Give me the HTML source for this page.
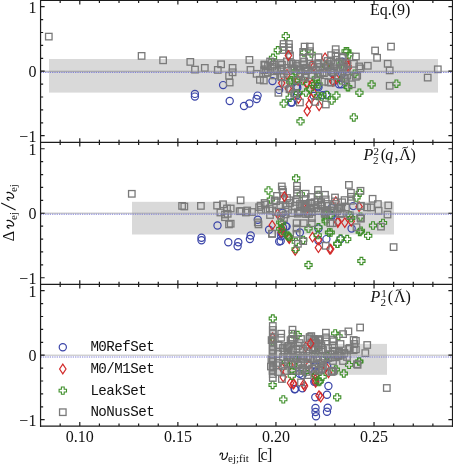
<!DOCTYPE html>
<html><head><meta charset="utf-8"><style>
html,body{margin:0;padding:0;background:#fff;}
svg{display:block;will-change:transform;filter:blur(0.3px);}
.tl{font-family:"Liberation Serif",serif;font-size:16px;fill:#111;}
.it{font-style:italic;}
.sm{font-family:"Liberation Serif",serif;font-size:11px;fill:#111;}
.lg{font-family:"Liberation Mono",monospace;font-size:14.2px;letter-spacing:-0.55px;fill:#111;}
.s{fill:none;stroke:#7a7a7a;stroke-width:1.3;}
.c{fill:none;stroke:#3b45a8;stroke-width:1.2;}
.d{fill:none;stroke:#d22b2b;stroke-width:1.2;stroke-linejoin:miter;}
.p{fill:none;stroke:#3f8f2a;stroke-width:1.1;}
</style></head><body>
<svg width="453" height="465" viewBox="0 0 453 465">
<rect x="49.0" y="59.0" width="389.0" height="33.599999999999994" fill="#d9d9d9"/>
<rect x="132.0" y="201.8" width="262.0" height="32.69999999999999" fill="#d9d9d9"/>
<rect x="268.0" y="343.9" width="119.0" height="30.900000000000034" fill="#d9d9d9"/>
<circle cx="194.9" cy="93.9" r="3.6" class="c"/>
<circle cx="194.9" cy="96.6" r="3.6" class="c"/>
<circle cx="223.1" cy="85.1" r="3.6" class="c"/>
<circle cx="229.7" cy="101.0" r="3.6" class="c"/>
<circle cx="244.0" cy="106.0" r="3.6" class="c"/>
<circle cx="249.4" cy="103.5" r="3.6" class="c"/>
<circle cx="256.6" cy="99.0" r="3.6" class="c"/>
<circle cx="257.6" cy="95.6" r="3.6" class="c"/>
<circle cx="272.5" cy="81.1" r="3.6" class="c"/>
<circle cx="279.1" cy="89.9" r="3.6" class="c"/>
<circle cx="291.0" cy="102.6" r="3.6" class="c"/>
<circle cx="297.0" cy="86.4" r="3.6" class="c"/>
<circle cx="297.0" cy="95.0" r="3.6" class="c"/>
<circle cx="332.4" cy="73.0" r="3.6" class="c"/>
<circle cx="342.3" cy="73.7" r="3.6" class="c"/>
<circle cx="339.0" cy="84.3" r="3.6" class="c"/>
<circle cx="296.0" cy="87.0" r="3.6" class="c"/>
<circle cx="317.8" cy="86.3" r="3.6" class="c"/>
<circle cx="342.3" cy="61.8" r="3.6" class="c"/>
<circle cx="292.0" cy="102.5" r="3.6" class="c"/>
<circle cx="297.3" cy="88.0" r="3.6" class="c"/>
<circle cx="318.5" cy="87.3" r="3.6" class="c"/>
<circle cx="322.5" cy="95.2" r="3.6" class="c"/>
<circle cx="326.4" cy="94.6" r="3.6" class="c"/>
<circle cx="313.8" cy="95.9" r="3.6" class="c"/>
<circle cx="341.3" cy="84.3" r="3.6" class="c"/>
<path d="M281.7 78.3L284.9 83.1L281.7 87.9L278.5 83.1Z" class="d"/>
<path d="M288.3 83.6L291.5 88.4L288.3 93.2L285.1 88.4Z" class="d"/>
<path d="M287.0 69.7L290.2 74.5L287.0 79.3L283.8 74.5Z" class="d"/>
<path d="M325.1 53.0L328.3 57.8L325.1 62.6L321.9 57.8Z" class="d"/>
<path d="M325.8 61.6L329.0 66.4L325.8 71.2L322.6 66.4Z" class="d"/>
<path d="M311.9 60.3L315.1 65.1L311.9 69.9L308.7 65.1Z" class="d"/>
<path d="M313.8 61.6L317.0 66.4L313.8 71.2L310.6 66.4Z" class="d"/>
<path d="M347.6 58.3L350.8 63.1L347.6 67.9L344.4 63.1Z" class="d"/>
<path d="M348.3 62.9L351.5 67.7L348.3 72.5L345.1 67.7Z" class="d"/>
<path d="M332.4 76.2L335.6 81.0L332.4 85.8L329.2 81.0Z" class="d"/>
<path d="M336.4 74.2L339.6 79.0L336.4 83.8L333.2 79.0Z" class="d"/>
<path d="M307.2 78.2L310.4 83.0L307.2 87.8L304.0 83.0Z" class="d"/>
<path d="M311.9 79.5L315.1 84.3L311.9 89.1L308.7 84.3Z" class="d"/>
<path d="M298.0 75.5L301.2 80.3L298.0 85.1L294.8 80.3Z" class="d"/>
<path d="M307.2 106.3L310.4 111.1L307.2 115.9L304.0 111.1Z" class="d"/>
<path d="M309.2 99.7L312.4 104.5L309.2 109.3L306.0 104.5Z" class="d"/>
<path d="M311.2 93.7L314.4 98.5L311.2 103.3L308.0 98.5Z" class="d"/>
<path d="M313.8 88.4L317.0 93.2L313.8 98.0L310.6 93.2Z" class="d"/>
<path d="M319.1 101.0L322.3 105.8L319.1 110.6L315.9 105.8Z" class="d"/>
<path d="M298.4 93.7L301.6 98.5L298.4 103.3L295.2 98.5Z" class="d"/>
<path d="M306.6 78.5L309.8 83.3L306.6 88.1L303.4 83.3Z" class="d"/>
<path d="M333.0 76.5L336.2 81.3L333.0 86.1L329.8 81.3Z" class="d"/>
<path d="M348.0 61.0L351.2 65.8L348.0 70.6L344.8 65.8Z" class="d"/>
<path d="M284.4 32.5L287.2 32.5L287.2 34.7L289.4 34.7L289.4 37.5L287.2 37.5L287.2 39.8L284.4 39.8L284.4 37.5L282.2 37.5L282.2 34.7L284.4 34.7Z" class="p"/>
<path d="M276.4 46.6L279.2 46.6L279.2 48.8L281.4 48.8L281.4 51.6L279.2 51.6L279.2 53.9L276.4 53.9L276.4 51.6L274.2 51.6L274.2 48.8L276.4 48.8Z" class="p"/>
<path d="M271.6 54.1L274.4 54.1L274.4 56.3L276.6 56.3L276.6 59.1L274.4 59.1L274.4 61.4L271.6 61.4L271.6 59.1L269.4 59.1L269.4 56.3L271.6 56.3Z" class="p"/>
<path d="M310.1 50.0L312.9 50.0L312.9 52.2L315.1 52.2L315.1 55.0L312.9 55.0L312.9 57.2L310.1 57.2L310.1 55.0L307.9 55.0L307.9 52.2L310.1 52.2Z" class="p"/>
<path d="M302.6 48.9L305.4 48.9L305.4 51.1L307.6 51.1L307.6 53.9L305.4 53.9L305.4 56.1L302.6 56.1L302.6 53.9L300.4 53.9L300.4 51.1L302.6 51.1Z" class="p"/>
<path d="M344.2 47.6L347.0 47.6L347.0 49.8L349.2 49.8L349.2 52.6L347.0 52.6L347.0 54.9L344.2 54.9L344.2 52.6L342.0 52.6L342.0 49.8L344.2 49.8Z" class="p"/>
<path d="M324.4 62.1L327.2 62.1L327.2 64.4L329.4 64.4L329.4 67.2L327.2 67.2L327.2 69.5L324.4 69.5L324.4 67.2L322.2 67.2L322.2 64.4L324.4 64.4Z" class="p"/>
<path d="M293.9 67.4L296.7 67.4L296.7 69.7L298.9 69.7L298.9 72.5L296.7 72.5L296.7 74.8L293.9 74.8L293.9 72.5L291.7 72.5L291.7 69.7L293.9 69.7Z" class="p"/>
<path d="M314.4 74.6L317.2 74.6L317.2 76.9L319.4 76.9L319.4 79.7L317.2 79.7L317.2 82.0L314.4 82.0L314.4 79.7L312.2 79.7L312.2 76.9L314.4 76.9Z" class="p"/>
<path d="M317.1 80.6L319.9 80.6L319.9 82.9L322.1 82.9L322.1 85.7L319.9 85.7L319.9 88.0L317.1 88.0L317.1 85.7L314.9 85.7L314.9 82.9L317.1 82.9Z" class="p"/>
<path d="M301.8 77.3L304.6 77.3L304.6 79.6L306.8 79.6L306.8 82.4L304.6 82.4L304.6 84.7L301.8 84.7L301.8 82.4L299.6 82.4L299.6 79.6L301.8 79.6Z" class="p"/>
<path d="M338.9 60.8L341.7 60.8L341.7 63.0L343.9 63.0L343.9 65.8L341.7 65.8L341.7 68.1L338.9 68.1L338.9 65.8L336.7 65.8L336.7 63.0L338.9 63.0Z" class="p"/>
<path d="M339.6 76.6L342.4 76.6L342.4 78.9L344.6 78.9L344.6 81.7L342.4 81.7L342.4 84.0L339.6 84.0L339.6 81.7L337.4 81.7L337.4 78.9L339.6 78.9Z" class="p"/>
<path d="M346.2 83.3L349.0 83.3L349.0 85.6L351.2 85.6L351.2 88.4L349.0 88.4L349.0 90.7L346.2 90.7L346.2 88.4L344.0 88.4L344.0 85.6L346.2 85.6Z" class="p"/>
<path d="M289.9 76.6L292.7 76.6L292.7 78.9L294.9 78.9L294.9 81.7L292.7 81.7L292.7 84.0L289.9 84.0L289.9 81.7L287.7 81.7L287.7 78.9L289.9 78.9Z" class="p"/>
<path d="M282.3 99.9L285.1 99.9L285.1 102.2L287.3 102.2L287.3 105.0L285.1 105.0L285.1 107.2L282.3 107.2L282.3 105.0L280.1 105.0L280.1 102.2L282.3 102.2Z" class="p"/>
<path d="M288.3 94.0L291.1 94.0L291.1 96.3L293.3 96.3L293.3 99.1L291.1 99.1L291.1 101.4L288.3 101.4L288.3 99.1L286.1 99.1L286.1 96.3L288.3 96.3Z" class="p"/>
<path d="M288.9 78.1L291.7 78.1L291.7 80.4L293.9 80.4L293.9 83.2L291.7 83.2L291.7 85.5L288.9 85.5L288.9 83.2L286.7 83.2L286.7 80.4L288.9 80.4Z" class="p"/>
<path d="M294.2 68.8L297.0 68.8L297.0 71.1L299.2 71.1L299.2 73.9L297.0 73.9L297.0 76.2L294.2 76.2L294.2 73.9L292.0 73.9L292.0 71.1L294.2 71.1Z" class="p"/>
<path d="M294.2 76.8L297.0 76.8L297.0 79.1L299.2 79.1L299.2 81.9L297.0 81.9L297.0 84.2L294.2 84.2L294.2 81.9L292.0 81.9L292.0 79.1L294.2 79.1Z" class="p"/>
<path d="M299.1 117.6L301.9 117.6L301.9 119.9L304.1 119.9L304.1 122.7L301.9 122.7L301.9 125.0L299.1 125.0L299.1 122.7L296.9 122.7L296.9 119.9L299.1 119.9Z" class="p"/>
<path d="M335.0 91.9L337.8 91.9L337.8 94.2L340.0 94.2L340.0 97.0L337.8 97.0L337.8 99.2L335.0 99.2L335.0 97.0L332.8 97.0L332.8 94.2L335.0 94.2Z" class="p"/>
<path d="M330.3 96.8L333.1 96.8L333.1 99.1L335.3 99.1L335.3 101.9L333.1 101.9L333.1 104.2L330.3 104.2L330.3 101.9L328.1 101.9L328.1 99.1L330.3 99.1Z" class="p"/>
<path d="M325.7 91.5L328.5 91.5L328.5 93.8L330.8 93.8L330.8 96.6L328.5 96.6L328.5 98.9L325.7 98.9L325.7 96.6L323.5 96.6L323.5 93.8L325.7 93.8Z" class="p"/>
<path d="M304.5 88.9L307.3 88.9L307.3 91.2L309.5 91.2L309.5 94.0L307.3 94.0L307.3 96.2L304.5 96.2L304.5 94.0L302.2 94.0L302.2 91.2L304.5 91.2Z" class="p"/>
<path d="M308.5 85.6L311.3 85.6L311.3 87.9L313.5 87.9L313.5 90.7L311.3 90.7L311.3 93.0L308.5 93.0L308.5 90.7L306.2 90.7L306.2 87.9L308.5 87.9Z" class="p"/>
<path d="M316.4 92.2L319.2 92.2L319.2 94.5L321.4 94.5L321.4 97.3L319.2 97.3L319.2 99.6L316.4 99.6L316.4 97.3L314.2 97.3L314.2 94.5L316.4 94.5Z" class="p"/>
<path d="M320.4 92.9L323.2 92.9L323.2 95.2L325.4 95.2L325.4 98.0L323.2 98.0L323.2 100.2L320.4 100.2L320.4 98.0L318.2 98.0L318.2 95.2L320.4 95.2Z" class="p"/>
<path d="M346.9 83.6L349.7 83.6L349.7 85.9L351.9 85.9L351.9 88.7L349.7 88.7L349.7 91.0L346.9 91.0L346.9 88.7L344.7 88.7L344.7 85.9L346.9 85.9Z" class="p"/>
<path d="M296.6 89.5L299.4 89.5L299.4 91.8L301.6 91.8L301.6 94.6L299.4 94.6L299.4 96.9L296.6 96.9L296.6 94.6L294.4 94.6L294.4 91.8L296.6 91.8Z" class="p"/>
<path d="M313.8 80.3L316.6 80.3L316.6 82.6L318.8 82.6L318.8 85.4L316.6 85.4L316.6 87.7L313.8 87.7L313.8 85.4L311.6 85.4L311.6 82.6L313.8 82.6Z" class="p"/>
<path d="M345.9 47.6L348.7 47.6L348.7 49.8L350.9 49.8L350.9 52.6L348.7 52.6L348.7 54.9L345.9 54.9L345.9 52.6L343.7 52.6L343.7 49.8L345.9 49.8Z" class="p"/>
<path d="M347.9 50.9L350.7 50.9L350.7 53.1L352.9 53.1L352.9 55.9L350.7 55.9L350.7 58.1L347.9 58.1L347.9 55.9L345.7 55.9L345.7 53.1L347.9 53.1Z" class="p"/>
<path d="M370.2 80.8L373.0 80.8L373.0 83.1L375.2 83.1L375.2 85.9L373.0 85.9L373.0 88.2L370.2 88.2L370.2 85.9L368.0 85.9L368.0 83.1L370.2 83.1Z" class="p"/>
<path d="M395.0 80.0L397.8 80.0L397.8 82.3L400.0 82.3L400.0 85.1L397.8 85.1L397.8 87.4L395.0 87.4L395.0 85.1L392.8 85.1L392.8 82.3L395.0 82.3Z" class="p"/>
<path d="M353.2 70.0L356.0 70.0L356.0 72.3L358.2 72.3L358.2 75.1L356.0 75.1L356.0 77.4L353.2 77.4L353.2 75.1L351.0 75.1L351.0 72.3L353.2 72.3Z" class="p"/>
<path d="M358.0 89.0L360.8 89.0L360.8 91.3L363.0 91.3L363.0 94.1L360.8 94.1L360.8 96.4L358.0 96.4L358.0 94.1L355.8 94.1L355.8 91.3L358.0 91.3Z" class="p"/>
<path d="M352.4 113.8L355.2 113.8L355.2 116.0L357.4 116.0L357.4 118.8L355.2 118.8L355.2 121.1L352.4 121.1L352.4 118.8L350.2 118.8L350.2 116.0L352.4 116.0Z" class="p"/>
<rect x="45.55" y="33.35" width="6.5" height="6.5" class="s"/>
<rect x="138.35" y="52.65" width="6.5" height="6.5" class="s"/>
<rect x="159.85" y="57.05" width="6.5" height="6.5" class="s"/>
<rect x="187.05" y="58.65" width="6.5" height="6.5" class="s"/>
<rect x="191.75" y="66.35" width="6.5" height="6.5" class="s"/>
<rect x="201.55" y="64.65" width="6.5" height="6.5" class="s"/>
<rect x="214.55" y="66.65" width="6.5" height="6.5" class="s"/>
<rect x="217.85" y="61.05" width="6.5" height="6.5" class="s"/>
<rect x="229.35" y="64.65" width="6.5" height="6.5" class="s"/>
<rect x="229.35" y="69.05" width="6.5" height="6.5" class="s"/>
<rect x="225.85" y="72.55" width="6.5" height="6.5" class="s"/>
<rect x="226.45" y="79.25" width="6.5" height="6.5" class="s"/>
<rect x="246.15" y="56.65" width="6.5" height="6.5" class="s"/>
<rect x="247.25" y="66.65" width="6.5" height="6.5" class="s"/>
<rect x="253.35" y="70.55" width="6.5" height="6.5" class="s"/>
<rect x="256.65" y="76.55" width="6.5" height="6.5" class="s"/>
<rect x="260.55" y="77.25" width="6.5" height="6.5" class="s"/>
<rect x="261.25" y="61.35" width="6.5" height="6.5" class="s"/>
<rect x="262.55" y="65.95" width="6.5" height="6.5" class="s"/>
<rect x="264.55" y="69.25" width="6.5" height="6.5" class="s"/>
<rect x="270.55" y="61.35" width="6.5" height="6.5" class="s"/>
<rect x="271.85" y="67.95" width="6.5" height="6.5" class="s"/>
<rect x="277.15" y="59.95" width="6.5" height="6.5" class="s"/>
<rect x="277.85" y="73.25" width="6.5" height="6.5" class="s"/>
<rect x="275.15" y="89.55" width="6.5" height="6.5" class="s"/>
<rect x="280.45" y="70.55" width="6.5" height="6.5" class="s"/>
<rect x="281.75" y="80.55" width="6.5" height="6.5" class="s"/>
<rect x="287.75" y="59.95" width="6.5" height="6.5" class="s"/>
<rect x="289.05" y="65.25" width="6.5" height="6.5" class="s"/>
<rect x="286.25" y="86.05" width="6.5" height="6.5" class="s"/>
<rect x="291.05" y="90.45" width="6.5" height="6.5" class="s"/>
<rect x="293.75" y="77.25" width="6.5" height="6.5" class="s"/>
<rect x="280.35" y="40.75" width="6.5" height="6.5" class="s"/>
<rect x="285.65" y="40.75" width="6.5" height="6.5" class="s"/>
<rect x="280.35" y="43.75" width="6.5" height="6.5" class="s"/>
<rect x="285.65" y="44.25" width="6.5" height="6.5" class="s"/>
<rect x="280.35" y="46.75" width="6.5" height="6.5" class="s"/>
<rect x="285.65" y="47.25" width="6.5" height="6.5" class="s"/>
<rect x="286.75" y="52.25" width="6.5" height="6.5" class="s"/>
<rect x="301.35" y="43.35" width="6.5" height="6.5" class="s"/>
<rect x="306.65" y="43.35" width="6.5" height="6.5" class="s"/>
<rect x="299.95" y="48.65" width="6.5" height="6.5" class="s"/>
<rect x="306.65" y="47.95" width="6.5" height="6.5" class="s"/>
<rect x="299.95" y="54.55" width="6.5" height="6.5" class="s"/>
<rect x="305.95" y="53.95" width="6.5" height="6.5" class="s"/>
<rect x="315.25" y="53.95" width="6.5" height="6.5" class="s"/>
<rect x="315.25" y="59.85" width="6.5" height="6.5" class="s"/>
<rect x="332.45" y="45.95" width="6.5" height="6.5" class="s"/>
<rect x="332.45" y="49.95" width="6.5" height="6.5" class="s"/>
<rect x="332.45" y="53.25" width="6.5" height="6.5" class="s"/>
<rect x="327.85" y="51.95" width="6.5" height="6.5" class="s"/>
<rect x="327.85" y="57.25" width="6.5" height="6.5" class="s"/>
<rect x="339.75" y="54.55" width="6.5" height="6.5" class="s"/>
<rect x="343.75" y="59.85" width="6.5" height="6.5" class="s"/>
<rect x="289.35" y="60.55" width="6.5" height="6.5" class="s"/>
<rect x="299.95" y="61.85" width="6.5" height="6.5" class="s"/>
<rect x="309.25" y="62.55" width="6.5" height="6.5" class="s"/>
<rect x="321.15" y="65.15" width="6.5" height="6.5" class="s"/>
<rect x="337.05" y="65.15" width="6.5" height="6.5" class="s"/>
<rect x="264.75" y="62.75" width="6.5" height="6.5" class="s"/>
<rect x="268.75" y="58.75" width="6.5" height="6.5" class="s"/>
<rect x="293.75" y="62.75" width="6.5" height="6.5" class="s"/>
<rect x="296.75" y="66.75" width="6.5" height="6.5" class="s"/>
<rect x="304.75" y="66.75" width="6.5" height="6.5" class="s"/>
<rect x="312.75" y="66.75" width="6.5" height="6.5" class="s"/>
<rect x="316.75" y="63.75" width="6.5" height="6.5" class="s"/>
<rect x="324.75" y="60.75" width="6.5" height="6.5" class="s"/>
<rect x="332.75" y="60.75" width="6.5" height="6.5" class="s"/>
<rect x="340.75" y="62.75" width="6.5" height="6.5" class="s"/>
<rect x="308.75" y="71.75" width="6.5" height="6.5" class="s"/>
<rect x="301.75" y="72.75" width="6.5" height="6.5" class="s"/>
<rect x="321.15" y="78.45" width="6.5" height="6.5" class="s"/>
<rect x="325.15" y="79.05" width="6.5" height="6.5" class="s"/>
<rect x="342.35" y="75.75" width="6.5" height="6.5" class="s"/>
<rect x="296.65" y="99.25" width="6.5" height="6.5" class="s"/>
<rect x="311.95" y="98.65" width="6.5" height="6.5" class="s"/>
<rect x="322.55" y="101.25" width="6.5" height="6.5" class="s"/>
<rect x="327.85" y="79.35" width="6.5" height="6.5" class="s"/>
<rect x="342.35" y="78.05" width="6.5" height="6.5" class="s"/>
<rect x="292.05" y="89.95" width="6.5" height="6.5" class="s"/>
<rect x="387.75" y="43.35" width="6.5" height="6.5" class="s"/>
<rect x="371.85" y="47.25" width="6.5" height="6.5" class="s"/>
<rect x="373.85" y="54.55" width="6.5" height="6.5" class="s"/>
<rect x="352.65" y="53.25" width="6.5" height="6.5" class="s"/>
<rect x="364.55" y="62.55" width="6.5" height="6.5" class="s"/>
<rect x="384.45" y="60.55" width="6.5" height="6.5" class="s"/>
<rect x="386.45" y="67.15" width="6.5" height="6.5" class="s"/>
<rect x="350.65" y="60.55" width="6.5" height="6.5" class="s"/>
<rect x="355.95" y="63.15" width="6.5" height="6.5" class="s"/>
<rect x="353.95" y="72.45" width="6.5" height="6.5" class="s"/>
<rect x="348.65" y="81.05" width="6.5" height="6.5" class="s"/>
<rect x="386.45" y="82.55" width="6.5" height="6.5" class="s"/>
<rect x="338.75" y="53.25" width="6.5" height="6.5" class="s"/>
<rect x="340.75" y="74.45" width="6.5" height="6.5" class="s"/>
<rect x="357.25" y="65.15" width="6.5" height="6.5" class="s"/>
<rect x="352.65" y="73.55" width="6.5" height="6.5" class="s"/>
<rect x="434.55" y="66.05" width="6.5" height="6.5" class="s"/>
<rect x="424.45" y="74.35" width="6.5" height="6.5" class="s"/>
<rect x="287.05" y="85.75" width="6.5" height="6.5" class="s"/>
<rect x="316.75" y="70.75" width="6.5" height="6.5" class="s"/>
<rect x="328.75" y="68.75" width="6.5" height="6.5" class="s"/>
<rect x="334.75" y="72.75" width="6.5" height="6.5" class="s"/>
<rect x="270.35" y="72.15" width="6.5" height="6.5" class="s"/>
<rect x="324.45" y="62.05" width="6.5" height="6.5" class="s"/>
<rect x="301.35" y="65.35" width="6.5" height="6.5" class="s"/>
<rect x="314.75" y="71.15" width="6.5" height="6.5" class="s"/>
<rect x="266.85" y="58.25" width="6.5" height="6.5" class="s"/>
<rect x="330.65" y="65.15" width="6.5" height="6.5" class="s"/>
<rect x="324.35" y="57.75" width="6.5" height="6.5" class="s"/>
<rect x="297.05" y="70.05" width="6.5" height="6.5" class="s"/>
<rect x="278.45" y="73.85" width="6.5" height="6.5" class="s"/>
<rect x="336.25" y="58.25" width="6.5" height="6.5" class="s"/>
<rect x="260.95" y="66.95" width="6.5" height="6.5" class="s"/>
<rect x="339.55" y="64.25" width="6.5" height="6.5" class="s"/>
<rect x="277.35" y="64.95" width="6.5" height="6.5" class="s"/>
<rect x="261.25" y="61.55" width="6.5" height="6.5" class="s"/>
<rect x="296.45" y="66.15" width="6.5" height="6.5" class="s"/>
<rect x="278.75" y="61.65" width="6.5" height="6.5" class="s"/>
<rect x="277.55" y="65.55" width="6.5" height="6.5" class="s"/>
<rect x="283.65" y="58.15" width="6.5" height="6.5" class="s"/>
<rect x="330.75" y="67.25" width="6.5" height="6.5" class="s"/>
<rect x="313.95" y="60.95" width="6.5" height="6.5" class="s"/>
<rect x="344.15" y="72.35" width="6.5" height="6.5" class="s"/>
<rect x="269.15" y="63.45" width="6.5" height="6.5" class="s"/>
<rect x="320.75" y="69.85" width="6.5" height="6.5" class="s"/>
<rect x="339.25" y="64.95" width="6.5" height="6.5" class="s"/>
<rect x="330.15" y="69.15" width="6.5" height="6.5" class="s"/>
<rect x="284.85" y="67.75" width="6.5" height="6.5" class="s"/>
<rect x="334.65" y="72.15" width="6.5" height="6.5" class="s"/>
<rect x="302.25" y="67.75" width="6.5" height="6.5" class="s"/>
<rect x="261.75" y="61.85" width="6.5" height="6.5" class="s"/>
<rect x="327.35" y="64.75" width="6.5" height="6.5" class="s"/>
<rect x="273.65" y="67.05" width="6.5" height="6.5" class="s"/>
<rect x="319.25" y="69.25" width="6.5" height="6.5" class="s"/>
<rect x="290.95" y="65.25" width="6.5" height="6.5" class="s"/>
<rect x="302.45" y="70.95" width="6.5" height="6.5" class="s"/>
<rect x="303.55" y="64.45" width="6.5" height="6.5" class="s"/>
<rect x="300.85" y="58.25" width="6.5" height="6.5" class="s"/>
<rect x="262.45" y="69.75" width="6.5" height="6.5" class="s"/>
<rect x="343.35" y="67.85" width="6.5" height="6.5" class="s"/>
<rect x="292.55" y="60.65" width="6.5" height="6.5" class="s"/>
<rect x="301.95" y="74.45" width="6.5" height="6.5" class="s"/>
<path d="M288.4 50.7L291.6 55.5L288.4 60.3L285.2 55.5Z" class="d"/>
<circle cx="217.5" cy="225.5" r="3.6" class="c"/>
<circle cx="201.5" cy="237.7" r="3.6" class="c"/>
<circle cx="201.5" cy="240.3" r="3.6" class="c"/>
<circle cx="228.3" cy="242.3" r="3.6" class="c"/>
<circle cx="238.3" cy="242.3" r="3.6" class="c"/>
<circle cx="237.6" cy="246.3" r="3.6" class="c"/>
<circle cx="257.8" cy="219.7" r="3.6" class="c"/>
<circle cx="269.1" cy="229.8" r="3.6" class="c"/>
<circle cx="250.7" cy="235.5" r="3.6" class="c"/>
<circle cx="249.9" cy="239.0" r="3.6" class="c"/>
<circle cx="281.2" cy="236.3" r="3.6" class="c"/>
<circle cx="285.8" cy="226.2" r="3.6" class="c"/>
<circle cx="283.0" cy="227.7" r="3.6" class="c"/>
<circle cx="331.7" cy="208.0" r="3.6" class="c"/>
<circle cx="331.7" cy="216.0" r="3.6" class="c"/>
<circle cx="282.6" cy="212.7" r="3.6" class="c"/>
<circle cx="286.6" cy="226.6" r="3.6" class="c"/>
<circle cx="280.7" cy="241.1" r="3.6" class="c"/>
<circle cx="318.4" cy="228.5" r="3.6" class="c"/>
<circle cx="318.4" cy="240.5" r="3.6" class="c"/>
<circle cx="326.4" cy="239.1" r="3.6" class="c"/>
<circle cx="331.1" cy="215.3" r="3.6" class="c"/>
<circle cx="299.9" cy="232.5" r="3.6" class="c"/>
<circle cx="282.0" cy="233.2" r="3.6" class="c"/>
<circle cx="353.2" cy="206.1" r="3.6" class="c"/>
<circle cx="351.6" cy="228.5" r="3.6" class="c"/>
<circle cx="340.6" cy="239.1" r="3.6" class="c"/>
<circle cx="279.2" cy="241.5" r="3.6" class="c"/>
<circle cx="281.4" cy="233.2" r="3.6" class="c"/>
<path d="M272.2 220.5L275.4 225.3L272.2 230.1L269.0 225.3Z" class="d"/>
<path d="M277.7 209.0L280.9 213.8L277.7 218.6L274.5 213.8Z" class="d"/>
<path d="M281.2 227.4L284.4 232.2L281.2 237.0L278.0 232.2Z" class="d"/>
<path d="M335.8 196.8L339.0 201.6L335.8 206.4L332.6 201.6Z" class="d"/>
<path d="M337.8 217.7L341.0 222.5L337.8 227.3L334.6 222.5Z" class="d"/>
<path d="M306.5 201.2L309.7 206.0L306.5 210.8L303.3 206.0Z" class="d"/>
<path d="M305.8 205.2L309.0 210.0L305.8 214.8L302.6 210.0Z" class="d"/>
<path d="M289.3 233.7L292.5 238.5L289.3 243.3L286.1 238.5Z" class="d"/>
<path d="M295.2 245.6L298.4 250.4L295.2 255.2L292.0 250.4Z" class="d"/>
<path d="M312.5 232.4L315.7 237.2L312.5 242.0L309.3 237.2Z" class="d"/>
<path d="M318.4 242.9L321.6 247.7L318.4 252.5L315.2 247.7Z" class="d"/>
<path d="M329.7 244.3L332.9 249.1L329.7 253.9L326.5 249.1Z" class="d"/>
<path d="M318.4 235.0L321.6 239.8L318.4 244.6L315.2 239.8Z" class="d"/>
<path d="M282.0 223.7L285.2 228.5L282.0 233.3L278.8 228.5Z" class="d"/>
<path d="M359.1 201.9L362.3 206.7L359.1 211.5L355.9 206.7Z" class="d"/>
<path d="M338.0 216.5L341.2 221.3L338.0 226.1L334.8 221.3Z" class="d"/>
<path d="M344.8 217.8L348.0 222.6L344.8 227.4L341.6 222.6Z" class="d"/>
<path d="M351.2 216.5L354.4 221.3L351.2 226.1L348.0 221.3Z" class="d"/>
<path d="M330.7 244.3L333.9 249.1L330.7 253.9L327.5 249.1Z" class="d"/>
<path d="M288.6 232.9L291.8 237.7L288.6 242.5L285.4 237.7Z" class="d"/>
<path d="M267.1 186.8L269.9 186.8L269.9 189.0L272.1 189.0L272.1 191.8L269.9 191.8L269.9 194.1L267.1 194.1L267.1 191.8L264.9 191.8L264.9 189.0L267.1 189.0Z" class="p"/>
<path d="M269.4 195.8L272.2 195.8L272.2 198.1L274.4 198.1L274.4 200.9L272.2 200.9L272.2 203.2L269.4 203.2L269.4 200.9L267.2 200.9L267.2 198.1L269.4 198.1Z" class="p"/>
<path d="M294.7 174.7L297.5 174.7L297.5 176.9L299.8 176.9L299.8 179.7L297.5 179.7L297.5 182.0L294.7 182.0L294.7 179.7L292.5 179.7L292.5 176.9L294.7 176.9Z" class="p"/>
<path d="M299.4 190.5L302.2 190.5L302.2 192.8L304.4 192.8L304.4 195.6L302.2 195.6L302.2 197.8L299.4 197.8L299.4 195.6L297.2 195.6L297.2 192.8L299.4 192.8Z" class="p"/>
<path d="M317.0 191.2L319.8 191.2L319.8 193.4L322.0 193.4L322.0 196.2L319.8 196.2L319.8 198.5L317.0 198.5L317.0 196.2L314.8 196.2L314.8 193.4L317.0 193.4Z" class="p"/>
<path d="M324.3 215.7L327.1 215.7L327.1 217.9L329.3 217.9L329.3 220.7L327.1 220.7L327.1 223.0L324.3 223.0L324.3 220.7L322.1 220.7L322.1 217.9L324.3 217.9Z" class="p"/>
<path d="M323.6 211.7L326.4 211.7L326.4 213.9L328.6 213.9L328.6 216.7L326.4 216.7L326.4 219.0L323.6 219.0L323.6 216.7L321.4 216.7L321.4 213.9L323.6 213.9Z" class="p"/>
<path d="M278.9 218.8L281.7 218.8L281.7 221.0L283.9 221.0L283.9 223.8L281.7 223.8L281.7 226.1L278.9 226.1L278.9 223.8L276.7 223.8L276.7 221.0L278.9 221.0Z" class="p"/>
<path d="M286.2 231.9L289.0 231.9L289.0 234.2L291.2 234.2L291.2 237.0L289.0 237.0L289.0 239.2L286.2 239.2L286.2 237.0L284.0 237.0L284.0 234.2L286.2 234.2Z" class="p"/>
<path d="M307.1 261.4L309.9 261.4L309.9 263.6L312.1 263.6L312.1 266.4L309.9 266.4L309.9 268.6L307.1 268.6L307.1 266.4L304.9 266.4L304.9 263.6L307.1 263.6Z" class="p"/>
<path d="M294.2 245.4L297.0 245.4L297.0 247.7L299.2 247.7L299.2 250.5L297.0 250.5L297.0 252.8L294.2 252.8L294.2 250.5L292.0 250.5L292.0 247.7L294.2 247.7Z" class="p"/>
<path d="M287.9 233.5L290.7 233.5L290.7 235.8L292.9 235.8L292.9 238.6L290.7 238.6L290.7 240.8L287.9 240.8L287.9 238.6L285.7 238.6L285.7 235.8L287.9 235.8Z" class="p"/>
<path d="M294.5 238.2L297.3 238.2L297.3 240.4L299.5 240.4L299.5 243.2L297.3 243.2L297.3 245.5L294.5 245.5L294.5 243.2L292.2 243.2L292.2 240.4L294.5 240.4Z" class="p"/>
<path d="M317.0 223.5L319.8 223.5L319.8 225.8L322.0 225.8L322.0 228.6L319.8 228.6L319.8 230.8L317.0 230.8L317.0 228.6L314.8 228.6L314.8 225.8L317.0 225.8Z" class="p"/>
<path d="M316.3 231.5L319.1 231.5L319.1 233.8L321.3 233.8L321.3 236.6L319.1 236.6L319.1 238.8L316.3 238.8L316.3 236.6L314.1 236.6L314.1 233.8L316.3 233.8Z" class="p"/>
<path d="M324.3 217.7L327.1 217.7L327.1 219.9L329.3 219.9L329.3 222.7L327.1 222.7L327.1 225.0L324.3 225.0L324.3 222.7L322.1 222.7L322.1 219.9L324.3 219.9Z" class="p"/>
<path d="M327.6 228.8L330.4 228.8L330.4 231.1L332.6 231.1L332.6 233.9L330.4 233.9L330.4 236.2L327.6 236.2L327.6 233.9L325.4 233.9L325.4 231.1L327.6 231.1Z" class="p"/>
<path d="M336.2 240.2L339.0 240.2L339.0 242.4L341.2 242.4L341.2 245.2L339.0 245.2L339.0 247.5L336.2 247.5L336.2 245.2L334.0 245.2L334.0 242.4L336.2 242.4Z" class="p"/>
<path d="M301.8 236.2L304.6 236.2L304.6 238.4L306.8 238.4L306.8 241.2L304.6 241.2L304.6 243.5L301.8 243.5L301.8 241.2L299.6 241.2L299.6 238.4L301.8 238.4Z" class="p"/>
<path d="M281.2 227.5L284.0 227.5L284.0 229.8L286.2 229.8L286.2 232.6L284.0 232.6L284.0 234.8L281.2 234.8L281.2 232.6L279.0 232.6L279.0 229.8L281.2 229.8Z" class="p"/>
<path d="M307.1 224.8L309.9 224.8L309.9 227.1L312.1 227.1L312.1 229.9L309.9 229.9L309.9 232.2L307.1 232.2L307.1 229.9L304.9 229.9L304.9 227.1L307.1 227.1Z" class="p"/>
<path d="M358.4 189.2L361.2 189.2L361.2 191.4L363.4 191.4L363.4 194.2L361.2 194.2L361.2 196.5L358.4 196.5L358.4 194.2L356.2 194.2L356.2 191.4L358.4 191.4Z" class="p"/>
<path d="M355.1 193.8L357.9 193.8L357.9 196.1L360.1 196.1L360.1 198.9L357.9 198.9L357.9 201.2L355.1 201.2L355.1 198.9L352.9 198.9L352.9 196.1L355.1 196.1Z" class="p"/>
<path d="M381.6 219.2L384.4 219.2L384.4 221.5L386.6 221.5L386.6 224.3L384.4 224.3L384.4 226.6L381.6 226.6L381.6 224.3L379.4 224.3L379.4 221.5L381.6 221.5Z" class="p"/>
<path d="M371.6 221.8L374.4 221.8L374.4 224.1L376.6 224.1L376.6 226.9L374.4 226.9L374.4 229.2L371.6 229.2L371.6 226.9L369.4 226.9L369.4 224.1L371.6 224.1Z" class="p"/>
<path d="M348.5 211.7L351.3 211.7L351.3 213.9L353.5 213.9L353.5 216.7L351.3 216.7L351.3 219.0L348.5 219.0L348.5 216.7L346.2 216.7L346.2 213.9L348.5 213.9Z" class="p"/>
<path d="M359.1 213.0L361.9 213.0L361.9 215.3L364.1 215.3L364.1 218.1L361.9 218.1L361.9 220.3L359.1 220.3L359.1 218.1L356.9 218.1L356.9 215.3L359.1 215.3Z" class="p"/>
<path d="M329.3 211.0L332.1 211.0L332.1 213.3L334.3 213.3L334.3 216.1L332.1 216.1L332.1 218.3L329.3 218.3L329.3 216.1L327.1 216.1L327.1 213.3L329.3 213.3Z" class="p"/>
<path d="M360.0 257.4L362.8 257.4L362.8 259.6L365.0 259.6L365.0 262.4L362.8 262.4L362.8 264.6L360.0 264.6L360.0 262.4L357.8 262.4L357.8 259.6L360.0 259.6Z" class="p"/>
<path d="M366.7 232.2L369.5 232.2L369.5 234.4L371.8 234.4L371.8 237.2L369.5 237.2L369.5 239.5L366.7 239.5L366.7 237.2L364.5 237.2L364.5 234.4L366.7 234.4Z" class="p"/>
<path d="M358.4 228.2L361.2 228.2L361.2 230.5L363.4 230.5L363.4 233.3L361.2 233.3L361.2 235.6L358.4 235.6L358.4 233.3L356.2 233.3L356.2 230.5L358.4 230.5Z" class="p"/>
<path d="M345.8 235.4L348.6 235.4L348.6 237.7L350.8 237.7L350.8 240.5L348.6 240.5L348.6 242.8L345.8 242.8L345.8 240.5L343.6 240.5L343.6 237.7L345.8 237.7Z" class="p"/>
<path d="M339.2 234.8L342.0 234.8L342.0 237.1L344.2 237.1L344.2 239.9L342.0 239.9L342.0 242.2L339.2 242.2L339.2 239.9L337.0 239.9L337.0 237.1L339.2 237.1Z" class="p"/>
<path d="M335.9 240.2L338.7 240.2L338.7 242.4L340.9 242.4L340.9 245.2L338.7 245.2L338.7 247.5L335.9 247.5L335.9 245.2L333.7 245.2L333.7 242.4L335.9 242.4Z" class="p"/>
<path d="M329.3 228.8L332.1 228.8L332.1 231.1L334.3 231.1L334.3 233.9L332.1 233.9L332.1 236.2L329.3 236.2L329.3 233.9L327.1 233.9L327.1 231.1L329.3 231.1Z" class="p"/>
<path d="M349.8 214.3L352.6 214.3L352.6 216.6L354.8 216.6L354.8 219.4L352.6 219.4L352.6 221.7L349.8 221.7L349.8 219.4L347.6 219.4L347.6 216.6L349.8 216.6Z" class="p"/>
<path d="M359.5 227.0L362.3 227.0L362.3 229.3L364.5 229.3L364.5 232.1L362.3 232.1L362.3 234.3L359.5 234.3L359.5 232.1L357.2 232.1L357.2 229.3L359.5 229.3Z" class="p"/>
<path d="M278.9 225.2L281.7 225.2L281.7 227.4L283.9 227.4L283.9 230.2L281.7 230.2L281.7 232.5L278.9 232.5L278.9 230.2L276.7 230.2L276.7 227.4L278.9 227.4Z" class="p"/>
<path d="M280.6 219.7L283.4 219.7L283.4 221.9L285.6 221.9L285.6 224.7L283.4 224.7L283.4 227.0L280.6 227.0L280.6 224.7L278.4 224.7L278.4 221.9L280.6 221.9Z" class="p"/>
<path d="M287.2 232.9L290.0 232.9L290.0 235.2L292.2 235.2L292.2 238.0L290.0 238.0L290.0 240.2L287.2 240.2L287.2 238.0L285.0 238.0L285.0 235.2L287.2 235.2Z" class="p"/>
<rect x="128.55" y="190.55" width="6.5" height="6.5" class="s"/>
<rect x="178.85" y="202.65" width="6.5" height="6.5" class="s"/>
<rect x="181.05" y="203.25" width="6.5" height="6.5" class="s"/>
<rect x="197.65" y="202.65" width="6.5" height="6.5" class="s"/>
<rect x="213.85" y="202.35" width="6.5" height="6.5" class="s"/>
<rect x="219.75" y="201.05" width="6.5" height="6.5" class="s"/>
<rect x="223.75" y="205.25" width="6.5" height="6.5" class="s"/>
<rect x="217.15" y="209.25" width="6.5" height="6.5" class="s"/>
<rect x="221.75" y="211.25" width="6.5" height="6.5" class="s"/>
<rect x="224.45" y="210.55" width="6.5" height="6.5" class="s"/>
<rect x="221.75" y="213.95" width="6.5" height="6.5" class="s"/>
<rect x="225.75" y="221.15" width="6.5" height="6.5" class="s"/>
<rect x="237.35" y="197.05" width="6.5" height="6.5" class="s"/>
<rect x="236.35" y="207.95" width="6.5" height="6.5" class="s"/>
<rect x="227.45" y="205.25" width="6.5" height="6.5" class="s"/>
<rect x="227.45" y="220.45" width="6.5" height="6.5" class="s"/>
<rect x="238.05" y="207.85" width="6.5" height="6.5" class="s"/>
<rect x="242.65" y="209.25" width="6.5" height="6.5" class="s"/>
<rect x="243.95" y="207.25" width="6.5" height="6.5" class="s"/>
<rect x="255.85" y="203.95" width="6.5" height="6.5" class="s"/>
<rect x="257.85" y="206.55" width="6.5" height="6.5" class="s"/>
<rect x="261.85" y="201.25" width="6.5" height="6.5" class="s"/>
<rect x="262.55" y="206.55" width="6.5" height="6.5" class="s"/>
<rect x="266.45" y="205.25" width="6.5" height="6.5" class="s"/>
<rect x="269.15" y="207.25" width="6.5" height="6.5" class="s"/>
<rect x="273.75" y="192.65" width="6.5" height="6.5" class="s"/>
<rect x="278.55" y="183.15" width="6.5" height="6.5" class="s"/>
<rect x="279.25" y="186.45" width="6.5" height="6.5" class="s"/>
<rect x="277.05" y="201.95" width="6.5" height="6.5" class="s"/>
<rect x="282.35" y="201.95" width="6.5" height="6.5" class="s"/>
<rect x="254.55" y="219.15" width="6.5" height="6.5" class="s"/>
<rect x="255.25" y="221.15" width="6.5" height="6.5" class="s"/>
<rect x="268.95" y="230.45" width="6.5" height="6.5" class="s"/>
<rect x="277.75" y="212.55" width="6.5" height="6.5" class="s"/>
<rect x="282.35" y="211.15" width="6.5" height="6.5" class="s"/>
<rect x="261.35" y="199.75" width="6.5" height="6.5" class="s"/>
<rect x="257.35" y="202.35" width="6.5" height="6.5" class="s"/>
<rect x="293.75" y="182.55" width="6.5" height="6.5" class="s"/>
<rect x="293.75" y="186.45" width="6.5" height="6.5" class="s"/>
<rect x="293.75" y="190.45" width="6.5" height="6.5" class="s"/>
<rect x="293.75" y="195.75" width="6.5" height="6.5" class="s"/>
<rect x="302.35" y="190.45" width="6.5" height="6.5" class="s"/>
<rect x="302.35" y="195.75" width="6.5" height="6.5" class="s"/>
<rect x="279.75" y="188.75" width="6.5" height="6.5" class="s"/>
<rect x="279.75" y="196.75" width="6.5" height="6.5" class="s"/>
<rect x="314.75" y="186.75" width="6.5" height="6.5" class="s"/>
<rect x="314.75" y="191.75" width="6.5" height="6.5" class="s"/>
<rect x="314.75" y="196.75" width="6.5" height="6.5" class="s"/>
<rect x="314.75" y="201.75" width="6.5" height="6.5" class="s"/>
<rect x="321.75" y="191.55" width="6.5" height="6.5" class="s"/>
<rect x="322.45" y="196.15" width="6.5" height="6.5" class="s"/>
<rect x="331.75" y="194.25" width="6.5" height="6.5" class="s"/>
<rect x="331.75" y="198.15" width="6.5" height="6.5" class="s"/>
<rect x="293.35" y="219.95" width="6.5" height="6.5" class="s"/>
<rect x="293.35" y="225.25" width="6.5" height="6.5" class="s"/>
<rect x="293.35" y="230.55" width="6.5" height="6.5" class="s"/>
<rect x="294.65" y="240.55" width="6.5" height="6.5" class="s"/>
<rect x="299.95" y="237.85" width="6.5" height="6.5" class="s"/>
<rect x="322.45" y="242.55" width="6.5" height="6.5" class="s"/>
<rect x="327.05" y="219.95" width="6.5" height="6.5" class="s"/>
<rect x="300.55" y="219.95" width="6.5" height="6.5" class="s"/>
<rect x="280.75" y="214.75" width="6.5" height="6.5" class="s"/>
<rect x="308.55" y="219.95" width="6.5" height="6.5" class="s"/>
<rect x="308.55" y="214.75" width="6.5" height="6.5" class="s"/>
<rect x="345.65" y="181.65" width="6.5" height="6.5" class="s"/>
<rect x="357.25" y="187.55" width="6.5" height="6.5" class="s"/>
<rect x="347.65" y="189.55" width="6.5" height="6.5" class="s"/>
<rect x="347.65" y="193.55" width="6.5" height="6.5" class="s"/>
<rect x="347.65" y="197.55" width="6.5" height="6.5" class="s"/>
<rect x="341.35" y="196.85" width="6.5" height="6.5" class="s"/>
<rect x="369.35" y="195.55" width="6.5" height="6.5" class="s"/>
<rect x="374.65" y="200.85" width="6.5" height="6.5" class="s"/>
<rect x="375.35" y="207.55" width="6.5" height="6.5" class="s"/>
<rect x="385.05" y="202.15" width="6.5" height="6.5" class="s"/>
<rect x="384.25" y="211.25" width="6.5" height="6.5" class="s"/>
<rect x="357.25" y="202.85" width="6.5" height="6.5" class="s"/>
<rect x="363.75" y="204.15" width="6.5" height="6.5" class="s"/>
<rect x="367.75" y="204.15" width="6.5" height="6.5" class="s"/>
<rect x="329.35" y="202.85" width="6.5" height="6.5" class="s"/>
<rect x="337.35" y="204.15" width="6.5" height="6.5" class="s"/>
<rect x="342.65" y="204.15" width="6.5" height="6.5" class="s"/>
<rect x="357.25" y="214.75" width="6.5" height="6.5" class="s"/>
<rect x="346.65" y="212.05" width="6.5" height="6.5" class="s"/>
<rect x="377.75" y="223.35" width="6.5" height="6.5" class="s"/>
<rect x="353.25" y="223.95" width="6.5" height="6.5" class="s"/>
<rect x="329.35" y="219.95" width="6.5" height="6.5" class="s"/>
<rect x="390.35" y="243.85" width="6.5" height="6.5" class="s"/>
<rect x="357.65" y="202.55" width="6.5" height="6.5" class="s"/>
<rect x="357.65" y="215.45" width="6.5" height="6.5" class="s"/>
<rect x="268.75" y="230.55" width="6.5" height="6.5" class="s"/>
<rect x="286.75" y="199.75" width="6.5" height="6.5" class="s"/>
<rect x="291.75" y="202.75" width="6.5" height="6.5" class="s"/>
<rect x="296.75" y="200.75" width="6.5" height="6.5" class="s"/>
<rect x="301.75" y="203.75" width="6.5" height="6.5" class="s"/>
<rect x="306.75" y="199.75" width="6.5" height="6.5" class="s"/>
<rect x="310.75" y="204.75" width="6.5" height="6.5" class="s"/>
<rect x="318.75" y="202.75" width="6.5" height="6.5" class="s"/>
<rect x="323.75" y="200.75" width="6.5" height="6.5" class="s"/>
<rect x="284.75" y="206.75" width="6.5" height="6.5" class="s"/>
<rect x="288.75" y="209.75" width="6.5" height="6.5" class="s"/>
<rect x="296.75" y="207.75" width="6.5" height="6.5" class="s"/>
<rect x="302.75" y="210.75" width="6.5" height="6.5" class="s"/>
<rect x="308.75" y="208.75" width="6.5" height="6.5" class="s"/>
<rect x="314.75" y="207.75" width="6.5" height="6.5" class="s"/>
<rect x="321.75" y="208.75" width="6.5" height="6.5" class="s"/>
<rect x="327.75" y="207.75" width="6.5" height="6.5" class="s"/>
<rect x="334.75" y="205.75" width="6.5" height="6.5" class="s"/>
<rect x="283.75" y="194.75" width="6.5" height="6.5" class="s"/>
<rect x="307.75" y="193.75" width="6.5" height="6.5" class="s"/>
<rect x="336.75" y="210.75" width="6.5" height="6.5" class="s"/>
<rect x="272.75" y="208.75" width="6.5" height="6.5" class="s"/>
<rect x="266.75" y="211.75" width="6.5" height="6.5" class="s"/>
<rect x="248.75" y="208.75" width="6.5" height="6.5" class="s"/>
<rect x="338.55" y="210.05" width="6.5" height="6.5" class="s"/>
<rect x="272.85" y="197.95" width="6.5" height="6.5" class="s"/>
<rect x="329.75" y="207.05" width="6.5" height="6.5" class="s"/>
<rect x="317.65" y="201.05" width="6.5" height="6.5" class="s"/>
<rect x="312.95" y="205.25" width="6.5" height="6.5" class="s"/>
<rect x="311.15" y="198.95" width="6.5" height="6.5" class="s"/>
<rect x="300.15" y="202.25" width="6.5" height="6.5" class="s"/>
<rect x="321.55" y="210.65" width="6.5" height="6.5" class="s"/>
<rect x="338.05" y="204.35" width="6.5" height="6.5" class="s"/>
<rect x="301.25" y="200.55" width="6.5" height="6.5" class="s"/>
<rect x="271.35" y="197.15" width="6.5" height="6.5" class="s"/>
<rect x="302.65" y="201.25" width="6.5" height="6.5" class="s"/>
<rect x="296.45" y="209.25" width="6.5" height="6.5" class="s"/>
<rect x="307.15" y="204.55" width="6.5" height="6.5" class="s"/>
<rect x="285.95" y="197.05" width="6.5" height="6.5" class="s"/>
<rect x="292.45" y="198.65" width="6.5" height="6.5" class="s"/>
<rect x="305.95" y="210.75" width="6.5" height="6.5" class="s"/>
<rect x="317.95" y="199.25" width="6.5" height="6.5" class="s"/>
<rect x="333.95" y="207.95" width="6.5" height="6.5" class="s"/>
<rect x="322.35" y="209.45" width="6.5" height="6.5" class="s"/>
<rect x="324.45" y="207.85" width="6.5" height="6.5" class="s"/>
<rect x="294.55" y="210.45" width="6.5" height="6.5" class="s"/>
<rect x="338.95" y="199.05" width="6.5" height="6.5" class="s"/>
<rect x="323.75" y="206.75" width="6.5" height="6.5" class="s"/>
<rect x="302.45" y="204.15" width="6.5" height="6.5" class="s"/>
<rect x="304.55" y="209.65" width="6.5" height="6.5" class="s"/>
<rect x="305.35" y="208.35" width="6.5" height="6.5" class="s"/>
<rect x="294.55" y="209.15" width="6.5" height="6.5" class="s"/>
<path d="M284.4 191.8L287.6 196.6L284.4 201.4L281.2 196.6Z" class="d"/>
<circle cx="295.1" cy="389.0" r="3.6" class="c"/>
<circle cx="302.4" cy="388.3" r="3.6" class="c"/>
<circle cx="315.3" cy="397.2" r="3.6" class="c"/>
<circle cx="314.3" cy="381.7" r="3.6" class="c"/>
<circle cx="315.0" cy="366.5" r="3.6" class="c"/>
<circle cx="299.7" cy="373.8" r="3.6" class="c"/>
<circle cx="302.4" cy="375.1" r="3.6" class="c"/>
<circle cx="328.4" cy="386.0" r="3.6" class="c"/>
<circle cx="327.0" cy="394.7" r="3.6" class="c"/>
<circle cx="315.3" cy="381.4" r="3.6" class="c"/>
<circle cx="315.3" cy="371.5" r="3.6" class="c"/>
<circle cx="315.3" cy="364.9" r="3.6" class="c"/>
<circle cx="327.2" cy="366.2" r="3.6" class="c"/>
<circle cx="315.5" cy="408.0" r="3.6" class="c"/>
<circle cx="315.5" cy="412.0" r="3.6" class="c"/>
<circle cx="316.0" cy="416.2" r="3.6" class="c"/>
<circle cx="327.7" cy="407.8" r="3.6" class="c"/>
<circle cx="327.0" cy="411.8" r="3.6" class="c"/>
<circle cx="294.6" cy="389.3" r="3.6" class="c"/>
<path d="M272.6 332.9L275.8 337.7L272.6 342.5L269.4 337.7Z" class="d"/>
<path d="M305.7 342.2L308.9 347.0L305.7 351.8L302.5 347.0Z" class="d"/>
<path d="M293.8 378.9L297.0 383.7L293.8 388.5L290.6 383.7Z" class="d"/>
<path d="M290.5 378.2L293.7 383.0L290.5 387.8L287.3 383.0Z" class="d"/>
<path d="M283.2 372.3L286.4 377.1L283.2 381.9L280.0 377.1Z" class="d"/>
<path d="M303.7 379.6L306.9 384.4L303.7 389.2L300.5 384.4Z" class="d"/>
<path d="M315.6 377.6L318.8 382.4L315.6 387.2L312.4 382.4Z" class="d"/>
<path d="M309.0 360.4L312.2 365.2L309.0 370.0L305.8 365.2Z" class="d"/>
<path d="M319.0 390.8L322.2 395.6L319.0 400.4L315.8 395.6Z" class="d"/>
<path d="M320.7 392.4L323.9 397.2L320.7 402.0L317.5 397.2Z" class="d"/>
<path d="M328.5 368.0L331.7 372.8L328.5 377.6L325.3 372.8Z" class="d"/>
<path d="M315.3 374.6L318.5 379.4L315.3 384.2L312.1 379.4Z" class="d"/>
<path d="M315.3 370.7L318.5 375.5L315.3 380.3L312.1 375.5Z" class="d"/>
<path d="M325.9 362.1L329.1 366.9L325.9 371.7L322.7 366.9Z" class="d"/>
<path d="M293.2 379.2L296.4 384.0L293.2 388.8L290.0 384.0Z" class="d"/>
<path d="M304.5 381.2L307.7 386.0L304.5 390.8L301.3 386.0Z" class="d"/>
<path d="M290.0 360.2L293.2 365.0L290.0 369.8L286.8 365.0Z" class="d"/>
<path d="M282.0 363.2L285.2 368.0L282.0 372.8L278.8 368.0Z" class="d"/>
<path d="M271.4 314.9L274.2 314.9L274.2 317.1L276.4 317.1L276.4 319.9L274.2 319.9L274.2 322.1L271.4 322.1L271.4 319.9L269.2 319.9L269.2 317.1L271.4 317.1Z" class="p"/>
<path d="M291.7 330.8L294.5 330.8L294.5 333.0L296.8 333.0L296.8 335.8L294.5 335.8L294.5 338.0L291.7 338.0L291.7 335.8L289.5 335.8L289.5 333.0L291.7 333.0Z" class="p"/>
<path d="M296.3 331.4L299.1 331.4L299.1 333.6L301.3 333.6L301.3 336.4L299.1 336.4L299.1 338.6L296.3 338.6L296.3 336.4L294.1 336.4L294.1 333.6L296.3 333.6Z" class="p"/>
<path d="M271.2 338.1L274.0 338.1L274.0 340.3L276.2 340.3L276.2 343.1L274.0 343.1L274.0 345.3L271.2 345.3L271.2 343.1L269.0 343.1L269.0 340.3L271.2 340.3Z" class="p"/>
<path d="M271.2 381.4L274.0 381.4L274.0 383.6L276.2 383.6L276.2 386.4L274.0 386.4L274.0 388.6L271.2 388.6L271.2 386.4L269.0 386.4L269.0 383.6L271.2 383.6Z" class="p"/>
<path d="M281.9 395.8L284.7 395.8L284.7 398.0L286.9 398.0L286.9 400.8L284.7 400.8L284.7 403.0L281.9 403.0L281.9 400.8L279.7 400.8L279.7 398.0L281.9 398.0Z" class="p"/>
<path d="M290.4 366.9L293.2 366.9L293.2 369.1L295.4 369.1L295.4 371.9L293.2 371.9L293.2 374.1L290.4 374.1L290.4 371.9L288.2 371.9L288.2 369.1L290.4 369.1Z" class="p"/>
<path d="M290.4 372.2L293.2 372.2L293.2 374.4L295.4 374.4L295.4 377.2L293.2 377.2L293.2 379.4L290.4 379.4L290.4 377.2L288.2 377.2L288.2 374.4L290.4 374.4Z" class="p"/>
<path d="M291.7 361.6L294.5 361.6L294.5 363.8L296.8 363.8L296.8 366.6L294.5 366.6L294.5 368.8L291.7 368.8L291.7 366.6L289.5 366.6L289.5 363.8L291.7 363.8Z" class="p"/>
<path d="M333.8 329.8L336.6 329.8L336.6 332.0L338.8 332.0L338.8 334.8L336.6 334.8L336.6 337.0L333.8 337.0L333.8 334.8L331.6 334.8L331.6 332.0L333.8 332.0Z" class="p"/>
<path d="M337.1 332.5L339.9 332.5L339.9 334.7L342.1 334.7L342.1 337.5L339.9 337.5L339.9 339.8L337.1 339.8L337.1 337.5L334.9 337.5L334.9 334.7L337.1 334.7Z" class="p"/>
<path d="M314.6 348.4L317.4 348.4L317.4 350.6L319.6 350.6L319.6 353.4L317.4 353.4L317.4 355.6L314.6 355.6L314.6 353.4L312.4 353.4L312.4 350.6L314.6 350.6Z" class="p"/>
<path d="M357.6 358.0L360.4 358.0L360.4 360.2L362.6 360.2L362.6 363.0L360.4 363.0L360.4 365.2L357.6 365.2L357.6 363.0L355.4 363.0L355.4 360.2L357.6 360.2Z" class="p"/>
<path d="M347.7 361.2L350.5 361.2L350.5 363.5L352.8 363.5L352.8 366.3L350.5 366.3L350.5 368.5L347.7 368.5L347.7 366.3L345.5 366.3L345.5 363.5L347.7 363.5Z" class="p"/>
<path d="M342.4 369.9L345.2 369.9L345.2 372.1L347.4 372.1L347.4 374.9L345.2 374.9L345.2 377.1L342.4 377.1L342.4 374.9L340.2 374.9L340.2 372.1L342.4 372.1Z" class="p"/>
<path d="M334.4 365.9L337.2 365.9L337.2 368.1L339.4 368.1L339.4 370.9L337.2 370.9L337.2 373.1L334.4 373.1L334.4 370.9L332.2 370.9L332.2 368.1L334.4 368.1Z" class="p"/>
<path d="M335.8 393.7L338.6 393.7L338.6 395.9L340.8 395.9L340.8 398.7L338.6 398.7L338.6 400.9L335.8 400.9L335.8 398.7L333.6 398.7L333.6 395.9L335.8 395.9Z" class="p"/>
<path d="M321.2 373.2L324.0 373.2L324.0 375.4L326.2 375.4L326.2 378.2L324.0 378.2L324.0 380.4L321.2 380.4L321.2 378.2L319.0 378.2L319.0 375.4L321.2 375.4Z" class="p"/>
<path d="M313.9 371.9L316.7 371.9L316.7 374.1L318.9 374.1L318.9 376.9L316.7 376.9L316.7 379.1L313.9 379.1L313.9 376.9L311.7 376.9L311.7 374.1L313.9 374.1Z" class="p"/>
<path d="M317.2 378.5L320.0 378.5L320.0 380.7L322.2 380.7L322.2 383.5L320.0 383.5L320.0 385.8L317.2 385.8L317.2 383.5L315.0 383.5L315.0 380.7L317.2 380.7Z" class="p"/>
<path d="M318.3 377.7L321.1 377.7L321.1 379.9L323.3 379.9L323.3 382.7L321.1 382.7L321.1 384.9L318.3 384.9L318.3 382.7L316.1 382.7L316.1 379.9L318.3 379.9Z" class="p"/>
<path d="M357.9 357.8L360.7 357.8L360.7 360.0L362.9 360.0L362.9 362.8L360.7 362.8L360.7 365.0L357.9 365.0L357.9 362.8L355.7 362.8L355.7 360.0L357.9 360.0Z" class="p"/>
<path d="M284.6 358.4L287.4 358.4L287.4 360.6L289.6 360.6L289.6 363.4L287.4 363.4L287.4 365.6L284.6 365.6L284.6 363.4L282.4 363.4L282.4 360.6L284.6 360.6Z" class="p"/>
<path d="M294.6 356.4L297.4 356.4L297.4 358.6L299.6 358.6L299.6 361.4L297.4 361.4L297.4 363.6L294.6 363.6L294.6 361.4L292.4 361.4L292.4 358.6L294.6 358.6Z" class="p"/>
<path d="M303.6 368.4L306.4 368.4L306.4 370.6L308.6 370.6L308.6 373.4L306.4 373.4L306.4 375.6L303.6 375.6L303.6 373.4L301.4 373.4L301.4 370.6L303.6 370.6Z" class="p"/>
<path d="M325.6 352.4L328.4 352.4L328.4 354.6L330.6 354.6L330.6 357.4L328.4 357.4L328.4 359.6L325.6 359.6L325.6 357.4L323.4 357.4L323.4 354.6L325.6 354.6Z" class="p"/>
<rect x="269.55" y="322.75" width="6.5" height="6.5" class="s"/>
<rect x="269.55" y="326.75" width="6.5" height="6.5" class="s"/>
<rect x="269.55" y="330.75" width="6.5" height="6.5" class="s"/>
<rect x="269.55" y="334.75" width="6.5" height="6.5" class="s"/>
<rect x="269.55" y="338.75" width="6.5" height="6.5" class="s"/>
<rect x="269.55" y="342.75" width="6.5" height="6.5" class="s"/>
<rect x="269.55" y="346.75" width="6.5" height="6.5" class="s"/>
<rect x="269.55" y="350.75" width="6.5" height="6.5" class="s"/>
<rect x="269.55" y="354.75" width="6.5" height="6.5" class="s"/>
<rect x="269.55" y="358.75" width="6.5" height="6.5" class="s"/>
<rect x="269.55" y="362.75" width="6.5" height="6.5" class="s"/>
<rect x="269.55" y="366.75" width="6.5" height="6.5" class="s"/>
<rect x="269.55" y="370.75" width="6.5" height="6.5" class="s"/>
<rect x="269.55" y="374.75" width="6.5" height="6.5" class="s"/>
<rect x="277.95" y="330.45" width="6.5" height="6.5" class="s"/>
<rect x="277.95" y="334.45" width="6.5" height="6.5" class="s"/>
<rect x="289.25" y="326.45" width="6.5" height="6.5" class="s"/>
<rect x="289.25" y="330.45" width="6.5" height="6.5" class="s"/>
<rect x="289.25" y="335.75" width="6.5" height="6.5" class="s"/>
<rect x="297.75" y="335.75" width="6.5" height="6.5" class="s"/>
<rect x="306.45" y="333.75" width="6.5" height="6.5" class="s"/>
<rect x="315.75" y="335.75" width="6.5" height="6.5" class="s"/>
<rect x="278.65" y="375.75" width="6.5" height="6.5" class="s"/>
<rect x="297.75" y="379.15" width="6.5" height="6.5" class="s"/>
<rect x="304.45" y="371.85" width="6.5" height="6.5" class="s"/>
<rect x="287.85" y="340.75" width="6.5" height="6.5" class="s"/>
<rect x="356.85" y="324.25" width="6.5" height="6.5" class="s"/>
<rect x="345.15" y="328.15" width="6.5" height="6.5" class="s"/>
<rect x="339.85" y="330.85" width="6.5" height="6.5" class="s"/>
<rect x="322.65" y="329.45" width="6.5" height="6.5" class="s"/>
<rect x="322.65" y="334.15" width="6.5" height="6.5" class="s"/>
<rect x="322.65" y="338.15" width="6.5" height="6.5" class="s"/>
<rect x="316.65" y="336.75" width="6.5" height="6.5" class="s"/>
<rect x="308.05" y="332.85" width="6.5" height="6.5" class="s"/>
<rect x="350.45" y="336.75" width="6.5" height="6.5" class="s"/>
<rect x="351.15" y="340.75" width="6.5" height="6.5" class="s"/>
<rect x="363.95" y="341.75" width="6.5" height="6.5" class="s"/>
<rect x="362.05" y="349.85" width="6.5" height="6.5" class="s"/>
<rect x="346.45" y="344.75" width="6.5" height="6.5" class="s"/>
<rect x="337.25" y="340.75" width="6.5" height="6.5" class="s"/>
<rect x="329.25" y="342.05" width="6.5" height="6.5" class="s"/>
<rect x="353.75" y="360.95" width="6.5" height="6.5" class="s"/>
<rect x="350.45" y="347.05" width="6.5" height="6.5" class="s"/>
<rect x="345.15" y="345.75" width="6.5" height="6.5" class="s"/>
<rect x="341.15" y="349.75" width="6.5" height="6.5" class="s"/>
<rect x="335.85" y="348.35" width="6.5" height="6.5" class="s"/>
<rect x="352.65" y="337.55" width="6.5" height="6.5" class="s"/>
<rect x="352.65" y="346.15" width="6.5" height="6.5" class="s"/>
<rect x="354.35" y="361.55" width="6.5" height="6.5" class="s"/>
<rect x="383.55" y="384.75" width="6.5" height="6.5" class="s"/>
<rect x="274.75" y="341.75" width="6.5" height="6.5" class="s"/>
<rect x="279.75" y="344.75" width="6.5" height="6.5" class="s"/>
<rect x="284.75" y="342.75" width="6.5" height="6.5" class="s"/>
<rect x="289.75" y="346.75" width="6.5" height="6.5" class="s"/>
<rect x="294.75" y="342.75" width="6.5" height="6.5" class="s"/>
<rect x="299.75" y="345.75" width="6.5" height="6.5" class="s"/>
<rect x="304.75" y="343.75" width="6.5" height="6.5" class="s"/>
<rect x="309.75" y="346.75" width="6.5" height="6.5" class="s"/>
<rect x="314.75" y="343.75" width="6.5" height="6.5" class="s"/>
<rect x="319.75" y="346.75" width="6.5" height="6.5" class="s"/>
<rect x="324.75" y="344.75" width="6.5" height="6.5" class="s"/>
<rect x="329.75" y="347.75" width="6.5" height="6.5" class="s"/>
<rect x="334.75" y="352.75" width="6.5" height="6.5" class="s"/>
<rect x="274.75" y="350.75" width="6.5" height="6.5" class="s"/>
<rect x="279.75" y="353.75" width="6.5" height="6.5" class="s"/>
<rect x="284.75" y="351.75" width="6.5" height="6.5" class="s"/>
<rect x="289.75" y="354.75" width="6.5" height="6.5" class="s"/>
<rect x="294.75" y="352.75" width="6.5" height="6.5" class="s"/>
<rect x="299.75" y="355.75" width="6.5" height="6.5" class="s"/>
<rect x="304.75" y="352.75" width="6.5" height="6.5" class="s"/>
<rect x="309.75" y="355.75" width="6.5" height="6.5" class="s"/>
<rect x="314.75" y="353.75" width="6.5" height="6.5" class="s"/>
<rect x="319.75" y="356.75" width="6.5" height="6.5" class="s"/>
<rect x="324.75" y="354.75" width="6.5" height="6.5" class="s"/>
<rect x="329.75" y="357.75" width="6.5" height="6.5" class="s"/>
<rect x="274.75" y="359.75" width="6.5" height="6.5" class="s"/>
<rect x="279.75" y="362.75" width="6.5" height="6.5" class="s"/>
<rect x="284.75" y="360.75" width="6.5" height="6.5" class="s"/>
<rect x="294.75" y="361.75" width="6.5" height="6.5" class="s"/>
<rect x="299.75" y="364.75" width="6.5" height="6.5" class="s"/>
<rect x="304.75" y="360.75" width="6.5" height="6.5" class="s"/>
<rect x="319.75" y="362.75" width="6.5" height="6.5" class="s"/>
<rect x="274.75" y="368.75" width="6.5" height="6.5" class="s"/>
<rect x="281.75" y="367.75" width="6.5" height="6.5" class="s"/>
<rect x="296.75" y="367.75" width="6.5" height="6.5" class="s"/>
<rect x="339.75" y="357.75" width="6.5" height="6.5" class="s"/>
<rect x="343.75" y="353.75" width="6.5" height="6.5" class="s"/>
<rect x="283.85" y="353.25" width="6.5" height="6.5" class="s"/>
<rect x="293.35" y="355.25" width="6.5" height="6.5" class="s"/>
<rect x="311.85" y="336.95" width="6.5" height="6.5" class="s"/>
<rect x="267.65" y="363.25" width="6.5" height="6.5" class="s"/>
<rect x="285.45" y="342.75" width="6.5" height="6.5" class="s"/>
<rect x="338.45" y="350.75" width="6.5" height="6.5" class="s"/>
<rect x="326.95" y="350.95" width="6.5" height="6.5" class="s"/>
<rect x="312.75" y="339.85" width="6.5" height="6.5" class="s"/>
<rect x="312.45" y="364.25" width="6.5" height="6.5" class="s"/>
<rect x="304.45" y="359.95" width="6.5" height="6.5" class="s"/>
<rect x="315.05" y="336.95" width="6.5" height="6.5" class="s"/>
<rect x="321.35" y="354.85" width="6.5" height="6.5" class="s"/>
<rect x="288.45" y="335.85" width="6.5" height="6.5" class="s"/>
<rect x="329.05" y="350.85" width="6.5" height="6.5" class="s"/>
<rect x="318.55" y="364.65" width="6.5" height="6.5" class="s"/>
<rect x="318.15" y="366.05" width="6.5" height="6.5" class="s"/>
<rect x="295.15" y="361.95" width="6.5" height="6.5" class="s"/>
<rect x="298.75" y="366.55" width="6.5" height="6.5" class="s"/>
<rect x="330.05" y="338.05" width="6.5" height="6.5" class="s"/>
<rect x="276.55" y="342.15" width="6.5" height="6.5" class="s"/>
<rect x="336.25" y="349.55" width="6.5" height="6.5" class="s"/>
<rect x="311.85" y="344.95" width="6.5" height="6.5" class="s"/>
<rect x="303.25" y="347.85" width="6.5" height="6.5" class="s"/>
<rect x="292.05" y="354.65" width="6.5" height="6.5" class="s"/>
<rect x="308.85" y="365.45" width="6.5" height="6.5" class="s"/>
<rect x="315.85" y="366.35" width="6.5" height="6.5" class="s"/>
<rect x="328.45" y="368.45" width="6.5" height="6.5" class="s"/>
<rect x="315.05" y="340.25" width="6.5" height="6.5" class="s"/>
<rect x="328.75" y="367.55" width="6.5" height="6.5" class="s"/>
<rect x="331.85" y="354.05" width="6.5" height="6.5" class="s"/>
<rect x="318.15" y="341.95" width="6.5" height="6.5" class="s"/>
<rect x="326.65" y="354.25" width="6.5" height="6.5" class="s"/>
<rect x="287.25" y="336.95" width="6.5" height="6.5" class="s"/>
<rect x="328.25" y="368.45" width="6.5" height="6.5" class="s"/>
<rect x="273.15" y="361.95" width="6.5" height="6.5" class="s"/>
<rect x="296.35" y="339.85" width="6.5" height="6.5" class="s"/>
<rect x="287.95" y="360.85" width="6.5" height="6.5" class="s"/>
<rect x="329.55" y="336.25" width="6.5" height="6.5" class="s"/>
<rect x="310.95" y="336.25" width="6.5" height="6.5" class="s"/>
<rect x="318.45" y="346.05" width="6.5" height="6.5" class="s"/>
<rect x="330.15" y="368.05" width="6.5" height="6.5" class="s"/>
<rect x="303.15" y="368.65" width="6.5" height="6.5" class="s"/>
<rect x="289.05" y="337.35" width="6.5" height="6.5" class="s"/>
<rect x="309.95" y="335.85" width="6.5" height="6.5" class="s"/>
<rect x="280.95" y="348.65" width="6.5" height="6.5" class="s"/>
<rect x="310.75" y="340.05" width="6.5" height="6.5" class="s"/>
<rect x="269.85" y="364.25" width="6.5" height="6.5" class="s"/>
<rect x="289.35" y="367.35" width="6.5" height="6.5" class="s"/>
<rect x="331.35" y="347.55" width="6.5" height="6.5" class="s"/>
<rect x="299.85" y="352.45" width="6.5" height="6.5" class="s"/>
<rect x="313.15" y="355.05" width="6.5" height="6.5" class="s"/>
<rect x="307.05" y="355.85" width="6.5" height="6.5" class="s"/>
<rect x="334.45" y="351.95" width="6.5" height="6.5" class="s"/>
<rect x="297.75" y="359.25" width="6.5" height="6.5" class="s"/>
<rect x="283.85" y="344.95" width="6.5" height="6.5" class="s"/>
<rect x="337.15" y="352.45" width="6.5" height="6.5" class="s"/>
<rect x="306.25" y="335.15" width="6.5" height="6.5" class="s"/>
<rect x="296.65" y="354.45" width="6.5" height="6.5" class="s"/>
<rect x="268.15" y="355.65" width="6.5" height="6.5" class="s"/>
<rect x="312.25" y="336.75" width="6.5" height="6.5" class="s"/>
<rect x="311.95" y="350.65" width="6.5" height="6.5" class="s"/>
<rect x="315.65" y="346.75" width="6.5" height="6.5" class="s"/>
<rect x="317.65" y="359.85" width="6.5" height="6.5" class="s"/>
<rect x="268.35" y="336.85" width="6.5" height="6.5" class="s"/>
<rect x="315.45" y="367.55" width="6.5" height="6.5" class="s"/>
<rect x="284.85" y="350.25" width="6.5" height="6.5" class="s"/>
<rect x="309.45" y="345.65" width="6.5" height="6.5" class="s"/>
<rect x="292.95" y="345.35" width="6.5" height="6.5" class="s"/>
<rect x="293.35" y="355.05" width="6.5" height="6.5" class="s"/>
<rect x="288.35" y="347.55" width="6.5" height="6.5" class="s"/>
<path d="M310.6 338.7L313.8 343.5L310.6 348.3L307.4 343.5Z" class="d"/>
<line x1="40.56" x2="452.5" y1="71.25" y2="71.25" stroke="#8e8e8e" stroke-width="0.8"/>
<line x1="40.56" x2="452.5" y1="72.4" y2="72.4" stroke="#7c7cd4" stroke-width="1" stroke-dasharray="1.3 1"/>
<line x1="40.56" x2="452.5" y1="213.2" y2="213.2" stroke="#a0a0a0" stroke-width="0.8"/>
<line x1="40.56" x2="452.5" y1="214.2" y2="214.2" stroke="#7c7cd4" stroke-width="1" stroke-dasharray="1.3 1"/>
<line x1="40.56" x2="452.5" y1="355.2" y2="355.2" stroke="#aaaaaa" stroke-width="0.8"/>
<line x1="40.56" x2="452.5" y1="357.0" y2="357.0" stroke="#7c7cd4" stroke-width="1" stroke-dasharray="1.3 1"/>
<path d="M40.56 135.70h4.1M452.5 135.70h-4.1M40.56 122.80h2.6M452.5 122.80h-2.6M40.56 109.90h2.6M452.5 109.90h-2.6M40.56 97.00h2.6M452.5 97.00h-2.6M40.56 84.10h2.6M452.5 84.10h-2.6M40.56 71.20h4.1M452.5 71.20h-4.1M40.56 58.30h2.6M452.5 58.30h-2.6M40.56 45.40h2.6M452.5 45.40h-2.6M40.56 32.50h2.6M452.5 32.50h-2.6M40.56 19.60h2.6M452.5 19.60h-2.6M40.56 6.70h4.1M452.5 6.70h-4.1M60.18 0.5v2.6M60.18 142.4v-2.6M79.79 0.5v4.1M79.79 142.4v-4.1M99.41 0.5v2.6M99.41 142.4v-2.6M119.02 0.5v2.6M119.02 142.4v-2.6M138.64 0.5v2.6M138.64 142.4v-2.6M158.26 0.5v2.6M158.26 142.4v-2.6M177.87 0.5v4.1M177.87 142.4v-4.1M197.49 0.5v2.6M197.49 142.4v-2.6M217.11 0.5v2.6M217.11 142.4v-2.6M236.72 0.5v2.6M236.72 142.4v-2.6M256.34 0.5v2.6M256.34 142.4v-2.6M275.95 0.5v4.1M275.95 142.4v-4.1M295.57 0.5v2.6M295.57 142.4v-2.6M315.19 0.5v2.6M315.19 142.4v-2.6M334.80 0.5v2.6M334.80 142.4v-2.6M354.42 0.5v2.6M354.42 142.4v-2.6M374.04 0.5v4.1M374.04 142.4v-4.1M393.65 0.5v2.6M393.65 142.4v-2.6M413.27 0.5v2.6M413.27 142.4v-2.6M432.88 0.5v2.6M432.88 142.4v-2.6" stroke="#1c1c1c" stroke-width="1.2" fill="none"/>
<path d="M40.56 277.75h4.1M452.5 277.75h-4.1M40.56 264.85h2.6M452.5 264.85h-2.6M40.56 251.95h2.6M452.5 251.95h-2.6M40.56 239.05h2.6M452.5 239.05h-2.6M40.56 226.15h2.6M452.5 226.15h-2.6M40.56 213.25h4.1M452.5 213.25h-4.1M40.56 200.35h2.6M452.5 200.35h-2.6M40.56 187.45h2.6M452.5 187.45h-2.6M40.56 174.55h2.6M452.5 174.55h-2.6M40.56 161.65h2.6M452.5 161.65h-2.6M40.56 148.75h4.1M452.5 148.75h-4.1M60.18 142.4v2.6M60.18 284.4v-2.6M79.79 142.4v4.1M79.79 284.4v-4.1M99.41 142.4v2.6M99.41 284.4v-2.6M119.02 142.4v2.6M119.02 284.4v-2.6M138.64 142.4v2.6M138.64 284.4v-2.6M158.26 142.4v2.6M158.26 284.4v-2.6M177.87 142.4v4.1M177.87 284.4v-4.1M197.49 142.4v2.6M197.49 284.4v-2.6M217.11 142.4v2.6M217.11 284.4v-2.6M236.72 142.4v2.6M236.72 284.4v-2.6M256.34 142.4v2.6M256.34 284.4v-2.6M275.95 142.4v4.1M275.95 284.4v-4.1M295.57 142.4v2.6M295.57 284.4v-2.6M315.19 142.4v2.6M315.19 284.4v-2.6M334.80 142.4v2.6M334.80 284.4v-2.6M354.42 142.4v2.6M354.42 284.4v-2.6M374.04 142.4v4.1M374.04 284.4v-4.1M393.65 142.4v2.6M393.65 284.4v-2.6M413.27 142.4v2.6M413.27 284.4v-2.6M432.88 142.4v2.6M432.88 284.4v-2.6" stroke="#1c1c1c" stroke-width="1.2" fill="none"/>
<path d="M40.56 419.70h4.1M452.5 419.70h-4.1M40.56 406.80h2.6M452.5 406.80h-2.6M40.56 393.90h2.6M452.5 393.90h-2.6M40.56 381.00h2.6M452.5 381.00h-2.6M40.56 368.10h2.6M452.5 368.10h-2.6M40.56 355.20h4.1M452.5 355.20h-4.1M40.56 342.30h2.6M452.5 342.30h-2.6M40.56 329.40h2.6M452.5 329.40h-2.6M40.56 316.50h2.6M452.5 316.50h-2.6M40.56 303.60h2.6M452.5 303.60h-2.6M40.56 290.70h4.1M452.5 290.70h-4.1M60.18 284.4v2.6M60.18 426.1v-2.6M79.79 284.4v4.1M79.79 426.1v-4.1M99.41 284.4v2.6M99.41 426.1v-2.6M119.02 284.4v2.6M119.02 426.1v-2.6M138.64 284.4v2.6M138.64 426.1v-2.6M158.26 284.4v2.6M158.26 426.1v-2.6M177.87 284.4v4.1M177.87 426.1v-4.1M197.49 284.4v2.6M197.49 426.1v-2.6M217.11 284.4v2.6M217.11 426.1v-2.6M236.72 284.4v2.6M236.72 426.1v-2.6M256.34 284.4v2.6M256.34 426.1v-2.6M275.95 284.4v4.1M275.95 426.1v-4.1M295.57 284.4v2.6M295.57 426.1v-2.6M315.19 284.4v2.6M315.19 426.1v-2.6M334.80 284.4v2.6M334.80 426.1v-2.6M354.42 284.4v2.6M354.42 426.1v-2.6M374.04 284.4v4.1M374.04 426.1v-4.1M393.65 284.4v2.6M393.65 426.1v-2.6M413.27 284.4v2.6M413.27 426.1v-2.6M432.88 284.4v2.6M432.88 426.1v-2.6" stroke="#1c1c1c" stroke-width="1.2" fill="none"/>
<path d="M40.56 0.5H452.5M40.56 142.4H452.5M40.56 284.4H452.5M40.56 426.1H452.5M40.56 0V427M452.5 0V427" stroke="#1c1c1c" stroke-width="1.2" fill="none"/>
<text x="36.4" y="12.6" text-anchor="end" class="tl">1</text>
<text x="36.4" y="77.1" text-anchor="end" class="tl">0</text>
<text x="36.4" y="141.6" text-anchor="end" class="tl">−1</text>
<text x="36.4" y="154.7" text-anchor="end" class="tl">1</text>
<text x="36.4" y="219.2" text-anchor="end" class="tl">0</text>
<text x="36.4" y="283.6" text-anchor="end" class="tl">−1</text>
<text x="36.4" y="296.6" text-anchor="end" class="tl">1</text>
<text x="36.4" y="361.1" text-anchor="end" class="tl">0</text>
<text x="36.4" y="425.6" text-anchor="end" class="tl">−1</text>
<text x="79.8" y="442.0" text-anchor="middle" class="tl">0.10</text>
<text x="177.9" y="442.0" text-anchor="middle" class="tl">0.15</text>
<text x="276.0" y="442.0" text-anchor="middle" class="tl">0.20</text>
<text x="374.0" y="442.0" text-anchor="middle" class="tl">0.25</text>
<circle cx="62.8" cy="347.2" r="3.6" class="c"/>
<text x="90.4" y="351.1" class="lg">M0RefSet</text>
<path d="M62.8 364.2L66.0 369.0L62.8 373.8L59.6 369.0Z" class="d"/>
<text x="90.4" y="372.9" class="lg">M0/M1Set</text>
<path d="M61.4 387.0L64.2 387.0L64.2 389.2L66.5 389.2L66.5 392.0L64.2 392.0L64.2 394.2L61.4 394.2L61.4 392.0L59.1 392.0L59.1 389.2L61.4 389.2Z" class="p"/>
<text x="90.4" y="394.5" class="lg">LeakSet</text>
<rect x="59.55" y="408.95" width="6.5" height="6.5" class="s"/>
<text x="90.4" y="416.1" class="lg">NoNusSet</text>
<text x="370" y="14.6" class="tl" >Eq.(9)</text>
<text x="363.5" y="160.2" class="tl it" >P</text>
<text x="373.6" y="154.9" class="sm" >2</text>
<text x="373.0" y="164.2" class="sm" >2</text>
<text x="380.8" y="160.2" class="tl" >(</text>
<text x="385.3" y="160.2" class="tl it" >q</text>
<text x="394.6" y="160.2" class="tl" >,</text>
<text x="399.2" y="160.2" class="tl" >Λ</text>
<path d="M402.4 148.4C404.1 146.2 405.8 149.2 408.0 146.8" fill="none" stroke="#111" stroke-width="0.9"/>
<text x="410.6" y="160.2" class="tl" >)</text>
<text x="370.6" y="301.6" class="tl it" >P</text>
<text x="381.2" y="296.6" class="sm" >1</text>
<text x="380.6" y="306.0" class="sm" >2</text>
<text x="387.8" y="301.6" class="tl" >(</text>
<text x="393.9" y="301.6" class="tl" >Λ</text>
<path d="M395.8 290.8C397.5 288.6 399.2 291.6 401.4 289.2" fill="none" stroke="#111" stroke-width="0.9"/>
<text x="405.6" y="301.6" class="tl" >)</text>
<g transform="translate(14,241) rotate(-90)"><text x="-0.3" y="0" class="tl">Δ</text><g transform="translate(12.6,0) scale(1.02)"><path d="M0.3 -4.9C0.8 -6.6 2.2 -7.5 2.9 -6.2C3.5 -5.0 1.9 -2.4 2.5 -1.0C3.1 0.3 5.4 -0.3 6.6 -2.2C7.6 -3.8 8.3 -5.3 7.7 -6.6" fill="none" stroke="#111" stroke-width="1.15" stroke-linecap="round"/><circle cx="7.75" cy="-6.5" r="0.75" fill="#111"/></g><text x="21.0" y="2.6" class="sm">ej</text><path d="M31.0 1.6L38.0 -12.8" stroke="#111" stroke-width="1.1" fill="none"/><g transform="translate(40.5,0) scale(1.02)"><path d="M0.3 -4.9C0.8 -6.6 2.2 -7.5 2.9 -6.2C3.5 -5.0 1.9 -2.4 2.5 -1.0C3.1 0.3 5.4 -0.3 6.6 -2.2C7.6 -3.8 8.3 -5.3 7.7 -6.6" fill="none" stroke="#111" stroke-width="1.15" stroke-linecap="round"/><circle cx="7.75" cy="-6.5" r="0.75" fill="#111"/></g><text x="48.9" y="2.6" class="sm">ej</text></g>
<g transform="translate(219.6,459.8) scale(1.0)"><path d="M0.3 -4.9C0.8 -6.6 2.2 -7.5 2.9 -6.2C3.5 -5.0 1.9 -2.4 2.5 -1.0C3.1 0.3 5.4 -0.3 6.6 -2.2C7.6 -3.8 8.3 -5.3 7.7 -6.6" fill="none" stroke="#111" stroke-width="1.15" stroke-linecap="round"/><circle cx="7.75" cy="-6.5" r="0.75" fill="#111"/></g>
<text x="228.0" y="462.3" class="sm" >ej;fit</text>
<text x="257.4" y="459.6" class="tl" >[</text>
<text x="260.4" y="459.6" class="tl" >c</text>
<text x="266.9" y="459.6" class="tl" >]</text>
</svg>
</body></html>
